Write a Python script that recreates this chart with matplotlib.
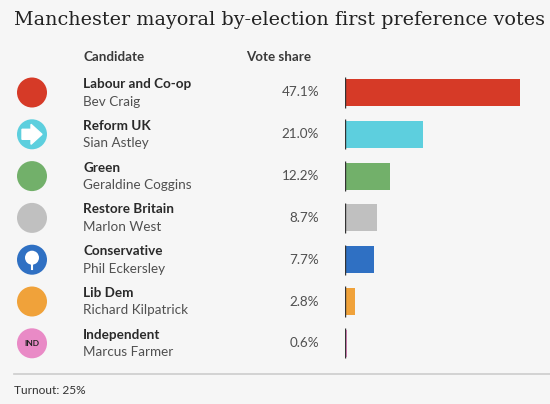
import matplotlib.pyplot as plt
from matplotlib.patches import Circle, Polygon
import numpy as np

parties = ["Labour and Co-op", "Reform UK", "Green", "Restore Britain",
           "Conservative", "Lib Dem", "Independent"]
candidates = ["Bev Craig", "Sian Astley", "Geraldine Coggins", "Marlon West",
              "Phil Eckersley", "Richard Kilpatrick", "Marcus Farmer"]
shares = [47.1, 21.0, 12.2, 8.7, 7.7, 2.8, 0.6]
colors = ["#d63a27", "#5dcfde", "#72b06a", "#c0c0c0", "#2f70c3", "#f0a23a", "#e98ac6"]
title = "Manchester mayoral by-election first preference votes"
turnout = "Turnout: 25%"

W, H = 550, 404
BG = "#f6f6f6"
row_top, row_h = 71.6, 41.8
bar_left = 345
px_per_pct = 3.716

fig = plt.figure(figsize=(W / 100, H / 100), dpi=100, facecolor=BG)

# overlay axes in pixel units for text and icons
deco = fig.add_axes([0, 0, 1, 1])
deco.set_xlim(0, W)
deco.set_ylim(H, 0)
deco.axis("off")

# bar axes
n = len(shares)
ax = fig.add_axes([bar_left / W, 1 - (row_top + n * row_h) / H,
                   1 - bar_left / W, n * row_h / H])
ax.set_facecolor("none")
ax.set_xlim(0, (W - bar_left) / px_per_pct)
ax.set_ylim(n - 0.5, -0.5)
ax.axis("off")
y = np.arange(n)
ax.barh(y, shares, height=0.645, color=colors)
for yi in y:
    ax.plot([0, 0], [yi - 0.36, yi + 0.36], color="#333333", lw=1.0,
            solid_capstyle="butt")

sans = "Lato"
deco.text(14, 20, title, fontsize=13.8, family="DejaVu Serif", color="#222222",
          va="center", ha="left")
deco.text(83, 57, "Candidate", fontsize=9.6, fontweight="bold", family=sans,
          color="#3a3a3a", va="center")
deco.text(246, 57, "Vote share", fontsize=9.6, fontweight="bold", family=sans,
          color="#3a3a3a", va="center")

for i, (p, c, s, col) in enumerate(zip(parties, candidates, shares, colors)):
    cy = row_top + row_h * (i + 0.5)
    deco.text(83, cy - 8.5, p, fontsize=9.7, fontweight="bold", family=sans,
              color="#2a2a2a", va="center")
    deco.text(83, cy + 9, c, fontsize=9.7, family=sans, color="#505050",
              va="center")
    deco.text(319, cy, f"{s:.1f}%", fontsize=9.7, family=sans, color="#505050",
              va="center", ha="right")
    deco.add_patch(Circle((32, cy), 15, color=col, ec="none"))

# simple icon marks
cy = row_top + row_h * 1.5
deco.add_patch(Polygon([(22, cy - 5), (31, cy - 5), (31, cy - 10), (42, cy),
                        (31, cy + 10), (31, cy + 5), (22, cy + 5)],
                       closed=True, color="white"))
cy = row_top + row_h * 4.5
deco.add_patch(Circle((32, cy - 2), 7, color="white", ec="none"))
deco.plot([32, 32], [cy + 2, cy + 9], color="white", lw=1.5)
cy = row_top + row_h * 6.5
deco.text(32, cy, "IND", fontsize=6, fontweight="bold", family=sans,
          color="#222222", ha="center", va="center")

deco.plot([14, W], [374, 374], color="#cccccc", lw=1.2)
deco.text(14, 390, turnout, fontsize=8.6, family=sans, color="#333333",
          va="center")

fig.savefig("out.png", dpi=100, facecolor=BG)
